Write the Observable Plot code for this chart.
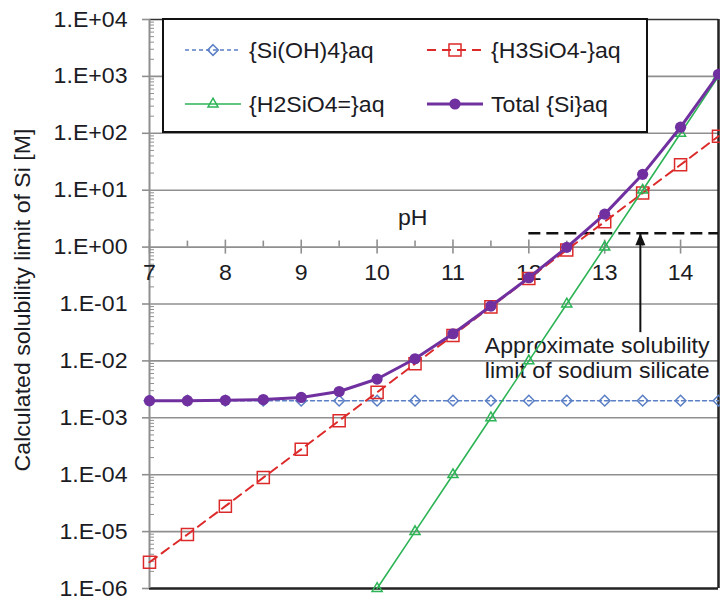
<!DOCTYPE html>
<html><head><meta charset="utf-8">
<script src="https://cdn.jsdelivr.net/npm/d3@7"></script>
<script src="https://cdn.jsdelivr.net/npm/@observablehq/plot@0.6"></script>
<style>
body{margin:0;background:#fff;}
#chart svg{display:block;}
</style></head><body><div id="chart"></div>
<script>
// ---- data ----
const pH = [7, 7.5, 8, 8.5, 9, 9.5, 10, 10.5, 11, 11.5, 12, 12.5, 13, 13.5, 14, 14.5];
const siOH4 = [2e-3, 2e-3, 2e-3, 2e-3, 2e-3, 2e-3, 2e-3, 2e-3, 2e-3, 2e-3, 2e-3, 2e-3, 2e-3, 2e-3, 2e-3, 2e-3];
const h3sio4 = [2.9e-6, 8.9e-6, 2.8e-5, 8.9e-5, 2.8e-4, 8.9e-4, 2.8e-3, 8.9e-3, 2.8e-2, 8.9e-2, 0.28, 0.89, 2.8, 8.9, 28, 89];
const pH2 = [10, 10.5, 11, 11.5, 12, 12.5, 13, 13.5, 14, 14.5];
const h2sio4 = [1e-6, 1e-5, 1e-4, 1e-3, 1e-2, 0.1, 1, 10, 100, 1000];
const total = [2.0e-3, 2.0e-3, 2.03e-3, 2.09e-3, 2.28e-3, 2.9e-3, 4.8e-3, 1.09e-2, 3.0e-2, 9.2e-2, 0.29, 0.99, 3.8, 19, 128, 1090];

const seriesNames = ["{Si(OH)4}aq", "{H3SiO4-}aq", "{H2SiO4=}aq", "Total {Si}aq"];
const yTicks = [1e-6, 1e-5, 1e-4, 1e-3, 1e-2, 1e-1, 1, 10, 100, 1000, 10000];
const yTickLabels = ["1.E-06", "1.E-05", "1.E-04", "1.E-03", "1.E-02", "1.E-01", "1.E+00", "1.E+01", "1.E+02", "1.E+03", "1.E+04"];
const xTicks = [7, 8, 9, 10, 11, 12, 13, 14];
const xTickLabels = ["7", "8", "9", "10", "11", "12", "13", "14"];
const xMinor = [7.5, 8.5, 9.5, 10.5, 11.5, 12.5, 13.5];
const yTitle = "Calculated solubility limit of Si [M]";
const xTitle = "pH";
const annoLines = "Approximate solubility\nlimit of sodium silicate";
const limitValue = 1.76;       // approximate solubility limit (dashed line)
const limitFrom = 12;          // dashed line starts at pH 12
const arrowPH = 13.47;
const arrowFrom = 0.047;

// ---- styles ----
const FONT = "Arial, 'Liberation Sans', Helvetica, sans-serif";
const BLUE = "#5a7fc4", RED = "#dc2a2a", GREEN = "#2db456", PURPLE = "#7030a0";
const GRID = "#8f8f8f", INK = "#1b1b24";

const rowsSi = pH.map((p, i) => ({pH: p, v: siOH4[i]}));
const rowsH3 = pH.map((p, i) => ({pH: p, v: h3sio4[i]}));
const rowsH2 = pH2.map((p, i) => ({pH: p, v: h2sio4[i]}));
const rowsT = pH.map((p, i) => ({pH: p, v: total[i]}));
const yMinor = yTicks.slice(0, -1).flatMap(d => [2, 3, 4, 5, 6, 7, 8, 9].map(k => d * k));

const arrowHead = {draw(ctx) { ctx.moveTo(0, 0); ctx.lineTo(5, 12); ctx.lineTo(-5, 12); ctx.closePath(); }};

const plot = Plot.plot({
  width: 720, height: 601,
  marginLeft: 149, marginRight: 2, marginTop: 19, marginBottom: 13,
  style: {fontFamily: FONT, fontSize: "22px", background: "#fff", color: INK},
  x: {domain: [7, 14.5], axis: null},
  y: {type: "log", domain: [1e-6, 1e4], axis: null},
  marks: [
    Plot.ruleY(yTicks.slice(1, -1), {stroke: GRID, strokeWidth: 1.6}),
    Plot.ruleY([1e4], {stroke: "#333", strokeWidth: 1.6}),
    Plot.ruleY([1e-6], {stroke: "#222", strokeWidth: 2.5}),
    Plot.ruleX([14.5], {stroke: "#222", strokeWidth: 2.5}),
    Plot.ruleX([7], {stroke: GRID, strokeWidth: 2}),
    // y ticks
    Plot.ruleY(yTicks, {x1: 7, x2: 7, insetLeft: -7, stroke: GRID, strokeWidth: 1.6}),
    Plot.ruleY(yMinor, {x1: 7, x2: 7, insetRight: -5, stroke: GRID, strokeWidth: 1}),
    Plot.text(yTicks, {x: 7, y: d => d, text: (d, i) => yTickLabels[i], textAnchor: "end", dx: -22, fill: INK}),
    // x axis at y = 1
    Plot.ruleX(xTicks, {x: d => d, y1: 1, y2: 1, insetTop: -7, insetBottom: -7, stroke: GRID, strokeWidth: 1.6}),
    Plot.ruleX(xMinor, {x: d => d, y1: 1, y2: 1, insetTop: -6, stroke: GRID, strokeWidth: 1.6}),
    Plot.text(xTicks, {x: d => d, y: 1, text: (d, i) => xTickLabels[i], dy: 26, fill: INK}),
    Plot.text([xTitle], {x: 10.47, y: 1, dy: -29, fill: INK}),
    Plot.text([yTitle], {frameAnchor: "left", textAnchor: "middle", rotate: -90, dx: -127, dy: -4, fill: INK}),
    // annotation
    Plot.ruleY([limitValue], {x1: limitFrom, x2: 14.5, stroke: "#111", strokeWidth: 2.5, strokeDasharray: "12,6"}),
    Plot.ruleX([arrowPH], {y1: arrowFrom, y2: limitValue, insetTop: 10, stroke: "#111", strokeWidth: 2}),
    Plot.dot([arrowPH], {x: d => d, y: limitValue, symbol: arrowHead, fill: "#111", stroke: "none"}),
    Plot.text([annoLines], {x: 11.42, y: 0.0115, textAnchor: "start", lineHeight: 1.15, fill: INK}),
    // series
    Plot.line(rowsSi, {x: "pH", y: "v", stroke: BLUE, strokeWidth: 1.5, strokeDasharray: "4,3"}),
    Plot.dot(rowsSi, {x: "pH", y: "v", symbol: "diamond2", r: 4.8, stroke: BLUE, strokeWidth: 1.5, fill: "none"}),
    Plot.line(rowsH3, {x: "pH", y: "v", stroke: RED, strokeWidth: 2, strokeDasharray: "9,6"}),
    Plot.dot(rowsH3, {x: "pH", y: "v", symbol: "square", r: 6.8, stroke: RED, strokeWidth: 1.5, fill: "none"}),
    Plot.line(rowsH2, {x: "pH", y: "v", stroke: GREEN, strokeWidth: 1.6}),
    Plot.dot(rowsH2, {x: "pH", y: "v", symbol: "triangle2", r: 4.8, stroke: GREEN, strokeWidth: 1.5, fill: "none"}),
    Plot.line(rowsT, {x: "pH", y: "v", stroke: PURPLE, strokeWidth: 3}),
    Plot.dot(rowsT, {x: "pH", y: "v", symbol: "circle", r: 5.6, fill: PURPLE, stroke: "none"})
  ]
});
document.getElementById("chart").appendChild(plot);

// ---- legend (boxed, upper left of the plot area) ----
const svg = d3.select(plot);
const lg = svg.append("g").attr("font-family", FONT).attr("font-size", 22).attr("text-anchor", "start");
lg.append("rect").attr("x", 163).attr("y", 19).attr("width", 484).attr("height", 113)
  .attr("fill", "#fff").attr("stroke", "#111").attr("stroke-width", 2);
const legendItems = [
  {name: seriesNames[0], color: BLUE, dash: "4,3", sw: 1.5, sym: d3.symbolDiamond2, r: 4.8, fill: "none", col: 0, row: 0},
  {name: seriesNames[1], color: RED, dash: "9,6", sw: 2, sym: d3.symbolSquare, r: 6.8, fill: "none", col: 1, row: 0},
  {name: seriesNames[2], color: GREEN, dash: null, sw: 1.6, sym: d3.symbolTriangle2, r: 4.8, fill: "none", col: 0, row: 1},
  {name: seriesNames[3], color: PURPLE, dash: null, sw: 3, sym: d3.symbolCircle, r: 5.6, fill: PURPLE, col: 1, row: 1}
];
const colX = [185, 427], rowY = [50, 104];
for (const it of legendItems) {
  const x0 = colX[it.col], y0 = rowY[it.row];
  lg.append("line").attr("x1", x0).attr("x2", x0 + 56).attr("y1", y0).attr("y2", y0)
    .attr("stroke", it.color).attr("stroke-width", it.sw).attr("stroke-dasharray", it.dash);
  lg.append("path").attr("transform", `translate(${x0 + 28},${y0})`)
    .attr("d", d3.symbol(it.sym, Math.PI * it.r * it.r)())
    .attr("fill", it.fill).attr("stroke", it.fill === "none" ? it.color : "none").attr("stroke-width", 1.5);
  lg.append("text").attr("x", x0 + 64).attr("y", y0).attr("dy", "0.35em").attr("fill", INK).text(it.name);
}

// the reference glyphs are slightly wider than Arial: stretch text horizontally a little
const STRETCH = 1.05;
svg.selectAll("text").each(function () {
  const spans = this.querySelectorAll("tspan");
  const targets = spans.length ? Array.from(spans) : [this];
  for (const t of targets) {
    const len = t.getComputedTextLength();
    if (len > 0) {
      t.setAttribute("textLength", (len * STRETCH).toFixed(1));
      t.setAttribute("lengthAdjust", "spacingAndGlyphs");
    }
  }
});
</script></body></html>
